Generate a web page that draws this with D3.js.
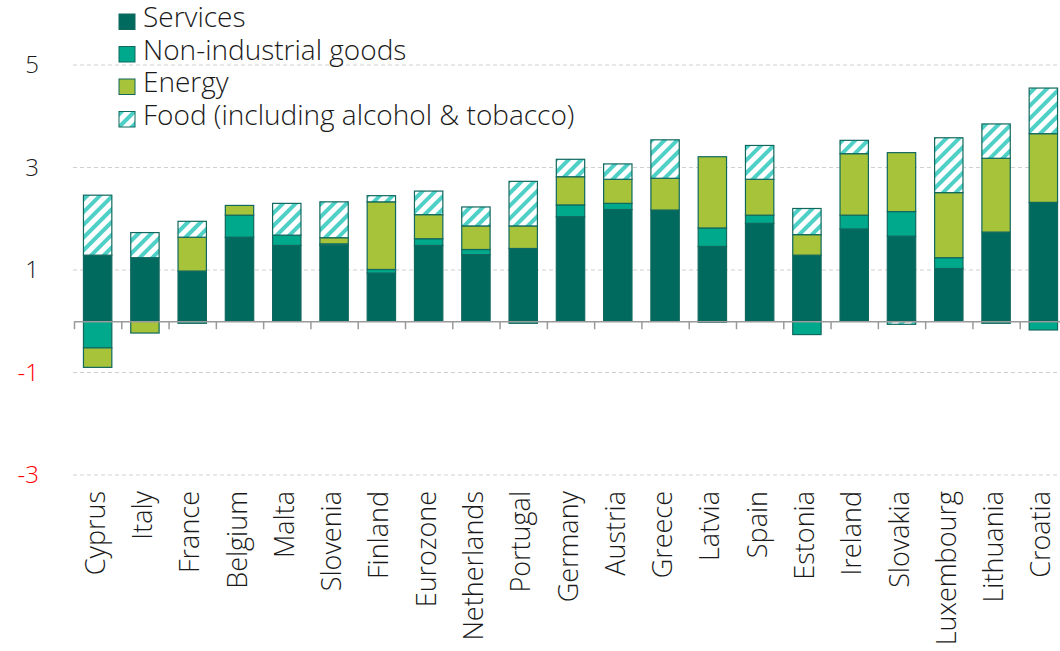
<!DOCTYPE html>
<html>
<head>
<meta charset="utf-8">
<script src="https://cdn.jsdelivr.net/npm/d3@7"></script>
<style>
  body { margin: 0; background: #fff; }
  text { font-family: "Open Sans", "Noto Sans", sans-serif; font-weight: 300; fill: #1a1a1a; }
</style>
</head>
<body>
<div id="chart"></div>
<script>
const countries = ["Cyprus", "Italy", "France", "Belgium", "Malta", "Slovenia", "Finland", "Eurozone",
  "Netherlands", "Portugal", "Germany", "Austria", "Greece", "Latvia", "Spain", "Estonia",
  "Ireland", "Slovakia", "Luxembourg", "Lithuania", "Croatia"];

const services      = [1.29, 1.24, 0.98, 1.64, 1.48, 1.48, 0.94, 1.48, 1.30, 1.42, 2.04, 2.18, 2.17, 1.46, 1.91, 1.29, 1.80, 1.66, 1.03, 1.74, 2.32];
const nonIndustrial = [-0.52, 0, -0.04, 0.43, 0.20, 0.03, 0.07, 0.13, 0.10, -0.04, 0.23, 0.12, 0, 0.36, 0.16, -0.26, 0.27, 0.48, 0.21, -0.04, -0.17];
const energy        = [-0.38, -0.23, 0.66, 0.19, 0, 0.12, 1.32, 0.47, 0.46, 0.44, 0.55, 0.47, 0.62, 1.39, 0.70, 0.40, 1.20, 1.15, 1.27, 1.44, 1.34];
const food          = [1.17, 0.49, 0.31, 0, 0.62, 0.70, 0.12, 0.46, 0.37, 0.87, 0.34, 0.30, 0.75, -0.02, 0.66, 0.51, 0.26, -0.06, 1.07, 0.67, 0.89];

const yTicks = [5, 3, 1, -1, -3];

const seriesKeys = ["services", "nonIndustrial", "energy", "food"];
const seriesLabels = ["Services", "Non-industrial goods", "Energy", "Food (including alcohol & tobacco)"];

const width = 1060, height = 651;

const svg = d3.select("#chart").append("svg")
  .attr("width", width)
  .attr("height", height);

// hatch for food
const defs = svg.append("defs");
const pat = defs.append("pattern")
  .attr("id", "hatch")
  .attr("patternUnits", "userSpaceOnUse")
  .attr("width", 9).attr("height", 9)
  .attr("patternTransform", "rotate(45)");
pat.append("rect").attr("width", 9).attr("height", 9).attr("fill", "#fff");
pat.append("rect").attr("width", 4).attr("height", 9).attr("fill", "#4fd0c6");

const fills = {
  services: "#006a5f",
  nonIndustrial: "#00a98b",
  energy: "#a6c33a",
  food: "url(#hatch)"
};

const rows = countries.map((c, i) => ({
  country: c,
  services: services[i],
  nonIndustrial: nonIndustrial[i],
  energy: energy[i],
  food: food[i]
}));

const x = d3.scaleBand()
  .domain(countries)
  .range([74, 1067])
  .paddingInner(0.4)
  .paddingOuter(0.2);

const y = d3.scaleLinear()
  .domain([-3, 5])
  .range([475, 65]);

// gridlines
svg.append("g")
  .selectAll("line")
  .data(yTicks)
  .enter()
  .append("line")
  .attr("x1", 73).attr("x2", width)
  .attr("y1", d => y(d)).attr("y2", d => y(d))
  .attr("stroke", "#d0d0d0")
  .attr("stroke-width", 1)
  .attr("stroke-dasharray", "4,3");

// y labels
svg.append("g")
  .selectAll("text")
  .data(yTicks)
  .enter()
  .append("text")
  .attr("x", 39)
  .attr("y", d => y(d) + 8)
  .attr("text-anchor", "end")
  .style("font-size", "24px")
  .style("fill", d => d < 0 ? "#ff0000" : "#1a1a1a")
  .text(d => d);

// stacked bars
const stacked = d3.stack()
  .keys(seriesKeys)
  .offset(d3.stackOffsetDiverging)(rows);

svg.append("g")
  .selectAll("g")
  .data(stacked)
  .enter()
  .append("g")
  .attr("fill", d => fills[d.key])
  .selectAll("rect")
  .data(d => d.filter(s => s[1] !== s[0]))
  .enter()
  .append("rect")
  .attr("x", d => x(d.data.country))
  .attr("width", x.bandwidth())
  .attr("y", d => y(Math.max(d[0], d[1])))
  .attr("height", d => Math.abs(y(d[0]) - y(d[1])))
  .attr("stroke", "#10685e")
  .attr("stroke-width", 1.2);

// x axis with ticks between categories
const step = x.step();
const edges = d3.scaleLinear().domain([0, countries.length]).range([74, 74 + step * countries.length]);
svg.append("g")
  .attr("transform", `translate(0,${y(0)})`)
  .call(d3.axisBottom(edges).tickValues(d3.range(countries.length + 1)).tickFormat("").tickSize(8).tickSizeOuter(0))
  .call(g => g.selectAll("path,line").attr("stroke", "#9a9a9a").attr("stroke-width", 1.5));

// country labels
svg.append("g")
  .selectAll("text")
  .data(countries)
  .enter()
  .append("text")
  .attr("transform", d => `translate(${x(d) + x.bandwidth() / 2 + 7},491) rotate(-90)`)
  .attr("text-anchor", "end")
  .style("font-size", "27px")
  .text(d => d);

// legend
const legend = svg.append("g")
  .selectAll("g")
  .data(seriesKeys)
  .enter()
  .append("g")
  .attr("transform", (d, i) => `translate(119,${14 + i * 32.5})`);

legend.append("rect")
  .attr("width", 16).attr("height", 15.5)
  .attr("fill", d => fills[d])
  .attr("stroke", "#10685e")
  .attr("stroke-width", 1);

legend.append("text")
  .attr("x", 24)
  .attr("y", 13)
  .style("font-size", "28px")
  .text((d, i) => seriesLabels[i]);
</script>
</body>
</html>
